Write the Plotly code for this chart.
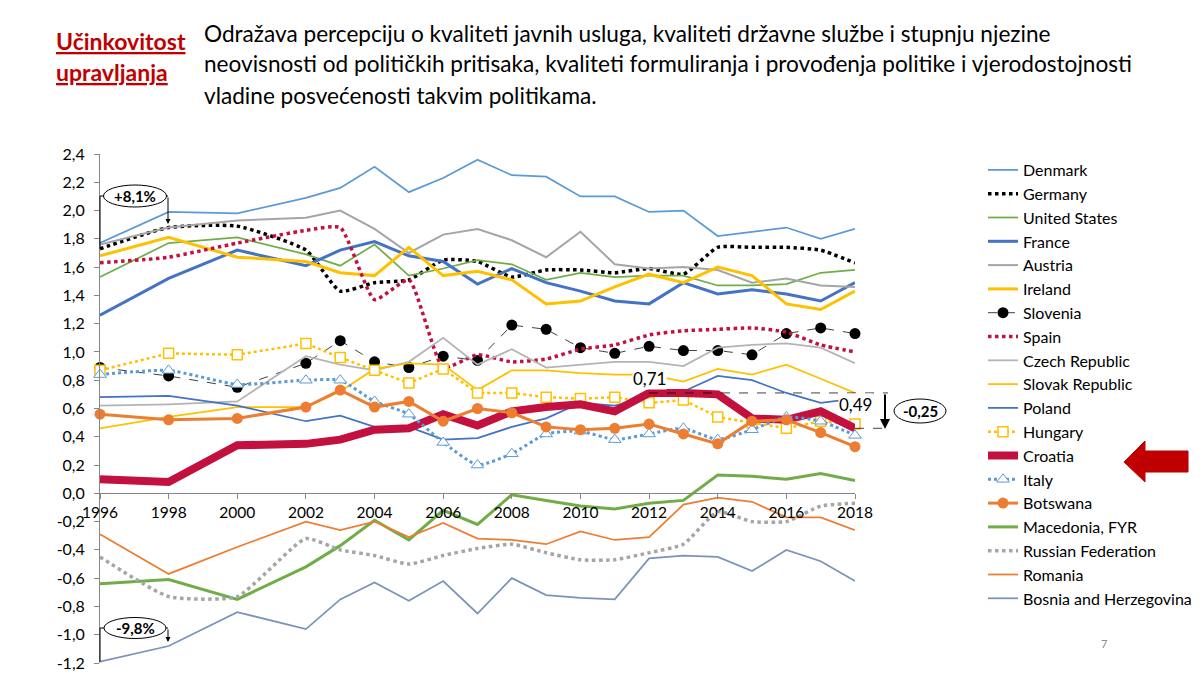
import plotly.graph_objects as go

# World Bank WGI - Government Effectiveness (estimate)
years = [1996, 1998, 2000, 2002, 2003, 2004, 2005, 2006, 2007, 2008,
         2009, 2010, 2011, 2012, 2013, 2014, 2015, 2016, 2017, 2018]

denmark = [1.77, 1.99, 1.98, 2.09, 2.16, 2.31, 2.13, 2.23, 2.36, 2.25,
           2.24, 2.10, 2.10, 1.99, 2.00, 1.82, 1.85, 1.88, 1.80, 1.87]
germany = [1.73, 1.88, 1.89, 1.72, 1.43, 1.49, 1.51, 1.65, 1.64, 1.53,
           1.58, 1.58, 1.56, 1.59, 1.55, 1.74, 1.74, 1.74, 1.72, 1.63]
united_states = [1.53, 1.77, 1.81, 1.69, 1.61, 1.76, 1.54, 1.59, 1.65, 1.62,
                 1.51, 1.56, 1.53, 1.54, 1.54, 1.47, 1.47, 1.48, 1.56, 1.58]
france = [1.26, 1.52, 1.72, 1.61, 1.72, 1.78, 1.68, 1.64, 1.48, 1.59,
          1.49, 1.43, 1.36, 1.34, 1.49, 1.41, 1.44, 1.41, 1.36, 1.49]
austria = [1.76, 1.88, 1.93, 1.95, 2.00, 1.87, 1.70, 1.83, 1.87, 1.79,
           1.67, 1.85, 1.62, 1.59, 1.60, 1.58, 1.49, 1.52, 1.47, 1.46]
ireland = [1.68, 1.81, 1.67, 1.64, 1.56, 1.54, 1.74, 1.54, 1.57, 1.51,
           1.34, 1.36, 1.46, 1.55, 1.49, 1.60, 1.54, 1.34, 1.30, 1.43]
slovenia = [0.89, 0.83, 0.75, 0.92, 1.08, 0.93, 0.89, 0.97, 0.94, 1.19,
            1.16, 1.03, 0.99, 1.04, 1.01, 1.01, 0.98, 1.13, 1.17, 1.13]
spain = [1.63, 1.67, 1.77, 1.86, 1.88, 1.37, 1.51, 0.89, 0.98, 0.93,
         0.95, 1.02, 1.05, 1.12, 1.15, 1.16, 1.17, 1.14, 1.05, 1.00]
czech = [0.62, 0.63, 0.65, 0.97, 0.91, 0.87, 0.93, 1.10, 0.91, 1.02,
         0.89, 0.91, 0.93, 0.93, 0.90, 1.03, 1.05, 1.06, 1.03, 0.92]
slovakia = [0.46, 0.54, 0.61, 0.61, 0.72, 0.88, 0.92, 0.91, 0.73, 0.87,
            0.87, 0.85, 0.84, 0.84, 0.79, 0.88, 0.84, 0.91, 0.81, 0.71]
poland = [0.68, 0.69, 0.62, 0.51, 0.55, 0.47, 0.47, 0.38, 0.39, 0.47,
          0.53, 0.64, 0.62, 0.68, 0.72, 0.83, 0.80, 0.71, 0.64, 0.67]
hungary = [0.87, 0.99, 0.98, 1.06, 0.96, 0.87, 0.78, 0.88, 0.71, 0.71,
           0.68, 0.67, 0.68, 0.64, 0.66, 0.54, 0.50, 0.46, 0.51, 0.49]
croatia = [0.10, 0.08, 0.34, 0.35, 0.38, 0.45, 0.46, 0.56, 0.48, 0.58,
           0.61, 0.63, 0.58, 0.71, 0.71, 0.70, 0.53, 0.52, 0.58, 0.46]
italy = [0.84, 0.87, 0.77, 0.80, 0.80, 0.65, 0.56, 0.36, 0.20, 0.28,
         0.42, 0.44, 0.38, 0.42, 0.46, 0.38, 0.45, 0.54, 0.51, 0.41]
botswana = [0.56, 0.52, 0.53, 0.61, 0.73, 0.61, 0.65, 0.51, 0.60, 0.57,
            0.47, 0.45, 0.46, 0.49, 0.42, 0.35, 0.51, 0.52, 0.43, 0.33]
macedonia = [-0.64, -0.61, -0.75, -0.52, -0.37, -0.19, -0.33, -0.12, -0.22, -0.01,
             -0.05, -0.09, -0.11, -0.07, -0.05, 0.13, 0.12, 0.10, 0.14, 0.09]
russia = [-0.45, -0.73, -0.73, -0.32, -0.40, -0.44, -0.50, -0.44, -0.39, -0.36,
          -0.42, -0.47, -0.47, -0.42, -0.36, -0.13, -0.20, -0.20, -0.09, -0.07]
romania = [-0.29, -0.57, -0.38, -0.20, -0.26, -0.20, -0.31, -0.21, -0.32, -0.33,
           -0.36, -0.27, -0.33, -0.31, -0.08, -0.03, -0.06, -0.17, -0.17, -0.26]
bosnia = [-1.19, -1.08, -0.84, -0.96, -0.75, -0.63, -0.76, -0.62, -0.85, -0.60,
          -0.72, -0.74, -0.75, -0.46, -0.44, -0.45, -0.55, -0.40, -0.48, -0.62]

x_tick_vals = [1996, 1998, 2000, 2002, 2004, 2006, 2008, 2010, 2012, 2014, 2016, 2018]
y_tick_vals = [-1.2, -1.0, -0.8, -0.6, -0.4, -0.2, 0.0, 0.2, 0.4, 0.6,
               0.8, 1.0, 1.2, 1.4, 1.6, 1.8, 2.0, 2.2, 2.4]
y_tick_text = ["-1,2", "-1,0", "-0,8", "-0,6", "-0,4", "-0,2", "0,0", "0,2", "0,4", "0,6",
               "0,8", "1,0", "1,2", "1,4", "1,6", "1,8", "2,0", "2,2", "2,4"]

title_lines = ["Učinkovitost", "upravljanja"]
desc_lines = [
    "Odražava percepciju o kvaliteti javnih usluga, kvaliteti državne službe i stupnju njezine",
    "neovisnosti od političkih pritisaka, kvaliteti formuliranja i provođenja politike i vjerodostojnosti",
    "vladine posvećenosti takvim politikama.",
]

FONT = "Lato, sans-serif"
Y_MIN, Y_MAX = -1.2, 2.4
# plot area on the 1200x675 page
L, R, T, B = 100, 855, 154, 663


def px(x):
    return (x - L) / (R - L)


def py(y):
    return (B - y) / (B - T)


def vy(v):
    return (v - Y_MIN) / (Y_MAX - Y_MIN)


def label(text, x, y, size, color="black", **kw):
    return dict(text=text, x=px(x), y=py(y), xref="paper", yref="paper",
                xanchor=kw.pop("xanchor", "center"), yanchor="middle", showarrow=False,
                font=dict(family=FONT, size=size, color=color), **kw)


CRIMSON = "#C2103F"
sq = dict(symbol="square", size=10, color="white", line=dict(color="#FFC000", width=1.5))
tri = dict(symbol="triangle-up", size=11, color="white", line=dict(color="#5B9BD5", width=1))

series = [
    ("Denmark", denmark, "lines", dict(color="#5B9BD5", width=1.75), None),
    ("Germany", germany, "lines", dict(color="black", width=3.5, dash="dot", shape="spline", smoothing=0.5), None),
    ("United States", united_states, "lines", dict(color="#70AD47", width=1.75), None),
    ("France", france, "lines", dict(color="#4472C4", width=3), None),
    ("Austria", austria, "lines", dict(color="#A5A5A5", width=2), None),
    ("Ireland", ireland, "lines", dict(color="#FFC000", width=3), None),
    ("Slovenia", slovenia, "lines+markers", dict(color="black", width=0.75, dash="dash"), dict(size=11, color="black")),
    ("Spain", spain, "lines", dict(color=CRIMSON, width=3.5, dash="dot", shape="spline", smoothing=0.5), None),
    ("Czech Republic", czech, "lines", dict(color="#B4B4B4", width=1.75), None),
    ("Slovak Republic", slovakia, "lines", dict(color="#FFC000", width=1.75), None),
    ("Poland", poland, "lines", dict(color="#4472C4", width=1.75), None),
    ("Hungary", hungary, "lines+markers", dict(color="#FFC000", width=2.5, dash="dot"), sq),
    ("Croatia", croatia, "lines", dict(color=CRIMSON, width=8), None),
    ("Italy", italy, "lines+markers", dict(color="#5B9BD5", width=3, dash="dot", shape="spline", smoothing=0.5), tri),
    ("Botswana", botswana, "lines+markers", dict(color="#ED7D31", width=3), dict(size=11, color="#ED7D31")),
    ("Macedonia, FYR", macedonia, "lines", dict(color="#70AD47", width=3), None),
    ("Russian Federation", russia, "lines", dict(color="#A5A5A5", width=3.5, dash="dot", shape="spline", smoothing=0.5), None),
    ("Romania", romania, "lines", dict(color="#ED7D31", width=1.75), None),
    ("Bosnia and Herzegovina", bosnia, "lines", dict(color="#7A93BB", width=1.75), None),
]

fig = go.Figure()
for name, vals, mode, line, marker in series:
    fig.add_trace(go.Scatter(x=years, y=vals, name=name, mode=mode, line=line,
                             marker=marker, legendgroup=name, cliponaxis=False,
                             hoverinfo="x+y+name"))

ann = []
# heading
for t, y in zip(title_lines, [41, 72]):
    ann.append(label("<b><u>%s</u></b>" % t, 54, y, 23, "#C00000", xanchor="left"))
for t, y in zip(desc_lines, [33, 64, 95]):
    ann.append(label(t, 202, y, 22.6, xanchor="left"))

# value labels for Croatia
ann.append(label("0,71", 649, 378, 17, bgcolor="white", borderpad=0))
ann.append(label("0,49", 855, 404, 17, bgcolor="white", borderpad=0))

# bubbles
for txt, cx, cy in [("+8,1%", 135, 196), ("-9,8%", 135, 628), ("-0,25", 920, 411)]:
    ann.append(label("<b>%s</b>" % txt, cx, cy, 15))

# small bracket arrows (tail above head)
for x0, y0, y1, w in [(168, 196, 224, 1), (168, 628, 642, 1), (885, 393, 429, 2)]:
    ann.append(dict(text="", x=px(x0), y=py(y1), ax=0, ay=y0 - y1, xref="paper", yref="paper",
                    axref="pixel", ayref="pixel", showarrow=True, arrowhead=2, arrowsize=1,
                    arrowwidth=w, arrowcolor="black"))

# page number
ann.append(label("7", 1104, 643, 11, "#8C8C8C"))

shapes = []
for cx, cy, w, h in [(135, 196, 63, 22), (135, 628, 62, 21), (920, 411, 52, 24)]:
    shapes.append(dict(type="circle", xref="paper", yref="paper", layer="above",
                       x0=px(cx - w / 2), x1=px(cx + w / 2), y0=py(cy + h / 2), y1=py(cy - h / 2),
                       line=dict(color="black", width=1), fillcolor="white"))

bracket = dict(color="black", width=1)
shapes += [
    dict(type="line", xref="paper", yref="paper", x0=0, x1=0, y0=vy(germany[0]), y1=py(196), line=bracket),
    dict(type="line", xref="paper", yref="paper", x0=0, x1=px(104), y0=py(196), y1=py(196), line=bracket),
    dict(type="line", xref="paper", yref="paper", x0=px(166), x1=px(168), y0=py(196), y1=py(196), line=bracket),
    dict(type="line", xref="paper", yref="paper", x0=0, x1=0, y0=vy(bosnia[0]), y1=py(628), line=bracket),
    dict(type="line", xref="paper", yref="paper", x0=0, x1=px(104), y0=py(628), y1=py(628), line=bracket),
    dict(type="line", xref="paper", yref="paper", x0=px(166), x1=px(168), y0=py(628), y1=py(628), line=bracket),
]
# dashed guides for the Croatia drop
i12 = years.index(2012)
dash_line = dict(color="black", width=0.75, dash="dash")
shapes.append(dict(type="line", xref="paper", yref="paper", x0=px(649), x1=px(888),
                   y0=vy(croatia[i12]), y1=vy(croatia[i12]), line=dash_line))
shapes.append(dict(type="line", xref="paper", yref="paper", x0=1, x1=px(888),
                   y0=vy(croatia[-1]), y1=vy(croatia[-1]), line=dash_line))

# big red arrow pointing at the Croatia legend entry
pts = [(1124, 462), (1145, 441), (1145, 451), (1188, 451), (1188, 472), (1145, 472), (1145, 482)]
path = "M " + " L ".join("%.4f,%.4f" % (px(a), py(b)) for a, b in pts) + " Z"
shapes.append(dict(type="path", xref="paper", yref="paper", path=path,
                   fillcolor="#C00000", line=dict(color="#C00000", width=1)))

fig.update_layout(
    width=1200, height=675,
    margin=dict(l=L, r=1200 - R, t=T, b=675 - B, autoexpand=False),
    paper_bgcolor="white", plot_bgcolor="white",
    font=dict(family=FONT, size=15, color="black"),
    showlegend=True,
    legend=dict(x=px(983), y=py(153), xanchor="left", yanchor="top",
                font=dict(family=FONT, size=16, color="black"), maxheight=675,
                tracegroupgap=0, itemwidth=30, bgcolor="rgba(0,0,0,0)"),
    xaxis=dict(range=[1996, 2018], tickvals=x_tick_vals, anchor="free", position=vy(0),
               showline=True, linecolor="#868686", linewidth=1, ticks="outside", ticklen=5,
               tickcolor="#868686", showgrid=False, zeroline=False,
               tickfont=dict(family=FONT, size=15.5, color="black")),
    yaxis=dict(range=[Y_MIN, Y_MAX], tickvals=y_tick_vals, ticktext=y_tick_text,
               showline=True, linecolor="#868686", linewidth=1, ticks="outside", ticklen=5,
               tickcolor="#868686", showgrid=False, zeroline=False, ticklabelstandoff=6,
               tickfont=dict(family=FONT, size=16, color="black")),
    annotations=ann,
    shapes=shapes,
)

fig.write_html("out.html", config={"displayModeBar": False},
               post_script="document.body.style.margin='0px';")
